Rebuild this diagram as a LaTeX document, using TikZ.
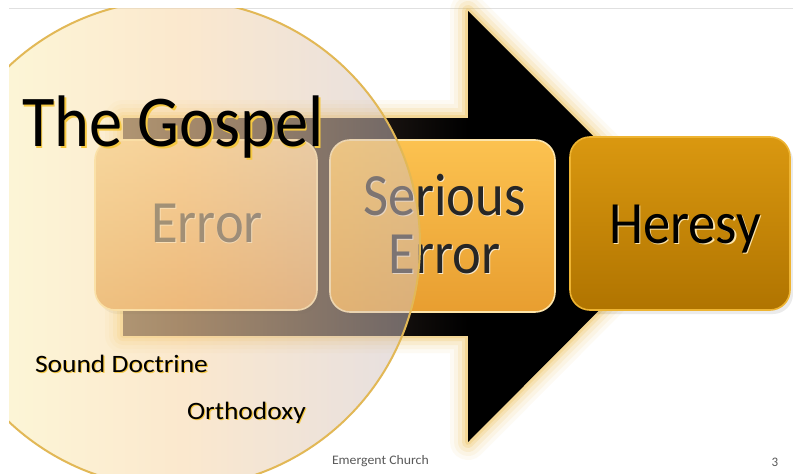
\documentclass[tikz,border=0pt]{standalone}
\usepackage{fontspec}
\setmainfont{Carlito}
\definecolor{glowc}{RGB}{236,184,62}
\definecolor{arrL}{RGB}{100,78,66}
\definecolor{cL}{RGB}{251,237,175}
\definecolor{cM}{RGB}{249,211,158}
\definecolor{cR}{RGB}{205,192,196}
\definecolor{cEdge}{RGB}{226,184,86}
\definecolor{b1T}{RGB}{244,206,148}
\definecolor{b1B}{RGB}{226,160,88}
\definecolor{b2T}{RGB}{252,194,80}
\definecolor{b2B}{RGB}{232,158,48}
\definecolor{b3T}{RGB}{218,152,16}
\definecolor{b3B}{RGB}{176,116,0}
\definecolor{rim1}{RGB}{252,228,170}
\definecolor{rim3}{RGB}{238,180,50}
\definecolor{gold}{RGB}{245,200,66}
\definecolor{lite}{RGB}{250,232,200}
\definecolor{footc}{RGB}{89,89,89}
\newcommand{\shd}[4]{\makebox[0pt][l]{\kern#2\raisebox{#3}{\textcolor{#1}{#4}}}#4}
\tikzset{
  lbl/.style={inner sep=0pt, outer sep=0pt},
  boxsh/.style={fill=black, fill opacity=0.08, rounded corners=20pt},
  stepbox/.style={rounded corners=20pt, line width=1.6pt},
}
\begin{document}
\begin{tikzpicture}[x=1pt,y=-1pt]
\useasboundingbox (0,0) rectangle (793,474);
\fill[white] (0,0) rectangle (793,474);
\coordinate (tl) at (9,8);
\coordinate (tr) at (793,8);
\draw[black!12, line width=1pt] (tl) -- (tr);

% arrow
\coordinate (s1) at (123,118);
\coordinate (h1) at (468,118);
\coordinate (h2) at (468,11);
\coordinate (tip) at (683,226);
\coordinate (h3) at (468,442);
\coordinate (h4) at (468,335);
\coordinate (s2) at (123,335);
\foreach \w/\o in {36/0.06,28/0.08,20/0.12,12/0.18,6/0.25}{
  \draw[glowc, line width=\w pt, draw opacity=\o, line join=round]
    (s1) -- (h1) -- (h2) -- (tip) -- (h3) -- (h4) -- (s2) -- cycle;
}
\fill[black] (s1) -- (h1) -- (h2) -- (tip) -- (h3) -- (h4) -- (s2) -- cycle;
\fill[left color=arrL, middle color=black, right color=black] (s1) rectangle (h4);

% box shadows
\fill[boxsh] (98,144) rectangle (320,314);
\fill[boxsh] (333,144) rectangle (558,316);
\fill[boxsh] (573,141) rectangle (793,314);

% boxes
\draw[stepbox, draw=rim1, top color=b1T, bottom color=b1B] (95,140) rectangle (317,310);
\draw[stepbox, draw=rim1, top color=b2T, bottom color=b2B] (330,140) rectangle (555,312);
\draw[stepbox, draw=rim3, top color=b3T, bottom color=b3B] (570,137) rectangle (790,310);
\node[lbl, anchor=base, text=black!70] (e1) at (207,242) {\fontsize{60}{60}\selectfont\scalebox{0.91}[1]{\shd{lite}{1pt}{-1.5pt}{Error}}};
\node[lbl, anchor=base, text=black!85] (s1t) at (444.5,215) {\fontsize{60}{60}\selectfont\scalebox{0.91}[1]{\shd{lite}{1pt}{-1.5pt}{Serious}}};
\node[lbl, anchor=base, text=black!85] (e2) at (444.5,273) {\fontsize{60}{60}\selectfont\scalebox{0.91}[1]{\shd{lite}{1pt}{-1.5pt}{Error}}};
\node[lbl, anchor=base, text=black] (h) at (685,243) {\fontsize{60}{60}\selectfont\scalebox{0.91}[1]{\shd{rim1}{1.5pt}{-1.5pt}{Heresy}}};

% circle: translucent overlay built from solid strips
\begin{scope}
  \clip (9,8) rectangle (793,474);
  \clip (176,244) circle (244);
  \foreach \i in {0,...,206}{
    \pgfmathsetmacro{\xa}{9+2*\i}
    \pgfmathsetmacro{\pa}{max(0,min(100,(\xa-9)/171*100))}
    \pgfmathsetmacro{\pb}{max(0,min(100,(\xa-180)/241*100))}
    \ifdim\xa pt<180pt
      \colorlet{stripc}{cM!\pa!cL}
    \else
      \colorlet{stripc}{cR!\pb!cM}
    \fi
    \fill[stripc, fill opacity=0.5] (\xa,0) rectangle ({\xa+2},474);
  }
\end{scope}
\begin{scope}
  \clip (9,8) rectangle (793,474);
  \draw[cEdge, line width=2pt] (176,244) circle (244);
\end{scope}

% texts on top
\node[lbl, anchor=base west, text=black] (g) at (22,146) {\fontsize{73}{73}\selectfont\scalebox{0.91}[1]{\shd{gold}{2pt}{-2pt}{The Gospel}}};
\node[lbl, anchor=base west, text=black] (sd) at (35,372) {\fontsize{25}{25}\selectfont\scalebox{1.1}[1]{\shd{gold}{1pt}{-1.5pt}{Sound Doctrine}}};
\node[lbl, anchor=base west, text=black] (or) at (187,419) {\fontsize{25}{25}\selectfont\scalebox{1.1}[1]{\shd{gold}{1pt}{-1.5pt}{Orthodoxy}}};

% footer
\node[lbl, anchor=base west, text=footc] (foot) at (332,464) {\fontsize{13}{13}\selectfont\scalebox{1.06}[1]{Emergent Church}};
\node[lbl, anchor=base, text=footc] (pg) at (775,466) {\fontsize{13}{13}\selectfont 3};
\end{tikzpicture}
\end{document}
